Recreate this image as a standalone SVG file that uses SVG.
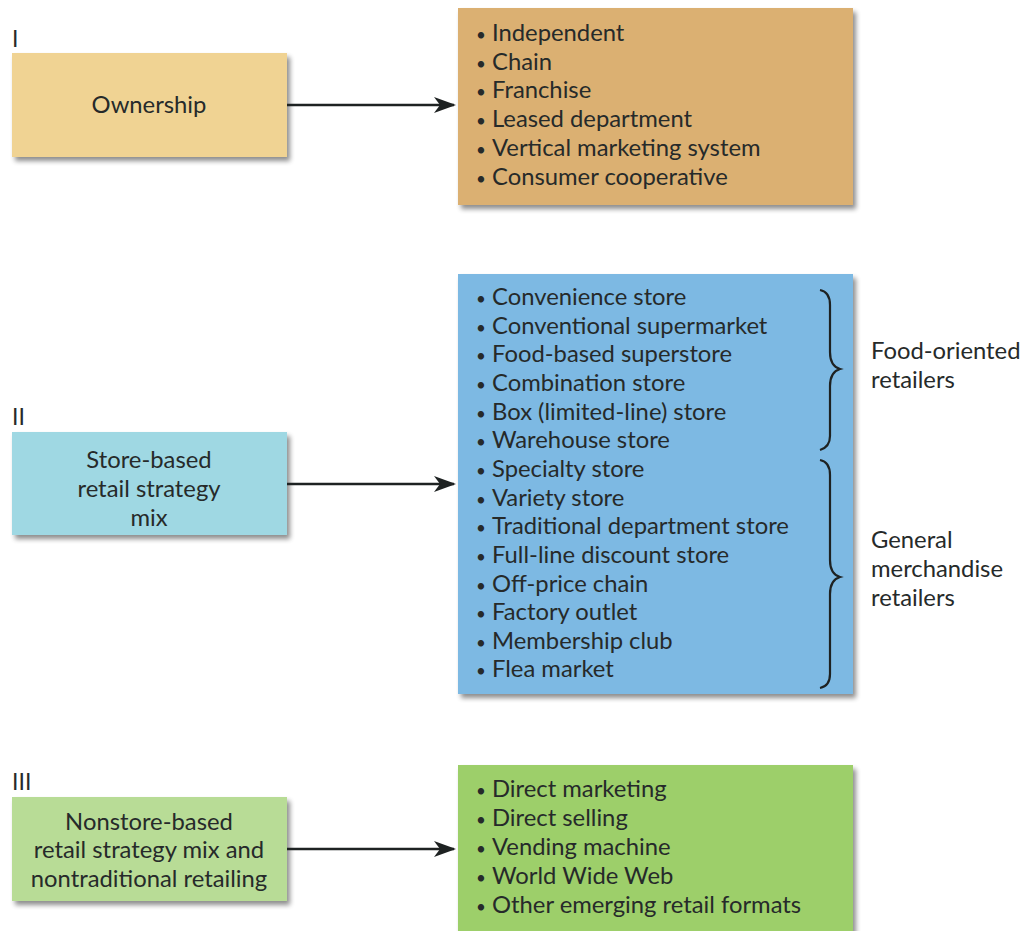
<svg xmlns="http://www.w3.org/2000/svg" width="1026" height="931" viewBox="0 0 1026 931">
<style>
text{font-family:Lato,"Open Sans","Liberation Sans",sans-serif;fill:#262a2a;font-size:23.8px}
.c{text-anchor:middle}
.lab{font-size:23px}
.b{font-size:17px}
.brace{fill:none;stroke:#1e2222;stroke-width:2.2}
.conn{stroke:#1e2222;stroke-width:2.4;fill:none}
</style>
<defs>
<filter id="sh" x="-10%" y="-10%" width="130%" height="130%">
<feGaussianBlur in="SourceAlpha" stdDeviation="2.5"/>
<feOffset dx="3" dy="4"/>
<feComponentTransfer><feFuncA type="linear" slope="0.45"/></feComponentTransfer>
<feMerge><feMergeNode/><feMergeNode in="SourceGraphic"/></feMerge>
</filter>
<marker id="ah" viewBox="0 0 22 16" refX="20" refY="8" markerWidth="22" markerHeight="16" markerUnits="userSpaceOnUse" orient="auto">
<path d="M0,0 L22,8 L0,16 L6,8 Z" fill="#1e2222"/>
</marker>
</defs>
<rect width="1026" height="931" fill="#ffffff"/>

<g id="label-I"><text x="12" y="47" class="lab">I</text></g>
<g id="label-II"><text x="12" y="425" class="lab">II</text></g>
<g id="label-III"><text x="12" y="790" class="lab">III</text></g>

<g id="ownership">
<rect x="12" y="53" width="275" height="104" fill="#f0d393" filter="url(#sh)"/>
<text x="149" y="113" class="c">Ownership</text>
</g>

<g id="ownership-list">
<rect x="458" y="8" width="395" height="197" fill="#dbb072" filter="url(#sh)"/>
<text x="476" y="41"><tspan class="b">•</tspan><tspan x="492">Independent</tspan></text>
<text x="476" y="70"><tspan class="b">•</tspan><tspan x="492">Chain</tspan></text>
<text x="476" y="98"><tspan class="b">•</tspan><tspan x="492">Franchise</tspan></text>
<text x="476" y="127"><tspan class="b">•</tspan><tspan x="492">Leased department</tspan></text>
<text x="476" y="156"><tspan class="b">•</tspan><tspan x="492">Vertical marketing system</tspan></text>
<text x="476" y="185"><tspan class="b">•</tspan><tspan x="492">Consumer cooperative</tspan></text>
</g>

<g id="store-based">
<rect x="12" y="432" width="275" height="103" fill="#9fd8e3" filter="url(#sh)"/>
<text x="149" y="468" class="c">Store-based</text>
<text x="149" y="497" class="c">retail strategy</text>
<text x="149" y="526" class="c">mix</text>
</g>

<g id="store-list">
<rect x="458" y="274" width="395" height="420" fill="#7db9e3" filter="url(#sh)"/>
<text x="476" y="305"><tspan class="b">•</tspan><tspan x="492">Convenience store</tspan></text>
<text x="476" y="334"><tspan class="b">•</tspan><tspan x="492">Conventional supermarket</tspan></text>
<text x="476" y="362"><tspan class="b">•</tspan><tspan x="492">Food-based superstore</tspan></text>
<text x="476" y="391"><tspan class="b">•</tspan><tspan x="492">Combination store</tspan></text>
<text x="476" y="420"><tspan class="b">•</tspan><tspan x="492">Box (limited-line) store</tspan></text>
<text x="476" y="448"><tspan class="b">•</tspan><tspan x="492">Warehouse store</tspan></text>
<text x="476" y="477"><tspan class="b">•</tspan><tspan x="492">Specialty store</tspan></text>
<text x="476" y="506"><tspan class="b">•</tspan><tspan x="492">Variety store</tspan></text>
<text x="476" y="534"><tspan class="b">•</tspan><tspan x="492">Traditional department store</tspan></text>
<text x="476" y="563"><tspan class="b">•</tspan><tspan x="492">Full-line discount store</tspan></text>
<text x="476" y="592"><tspan class="b">•</tspan><tspan x="492">Off-price chain</tspan></text>
<text x="476" y="620"><tspan class="b">•</tspan><tspan x="492">Factory outlet</tspan></text>
<text x="476" y="649"><tspan class="b">•</tspan><tspan x="492">Membership club</tspan></text>
<text x="476" y="677"><tspan class="b">•</tspan><tspan x="492">Flea market</tspan></text>
<path class="brace" d="M820,290 Q830,292 830,305 L830,352 Q830,366 840,369 Q830,372 830,386 L830,436 Q830,447 820,450"/>
<path class="brace" d="M820,460 Q830,462 830,475 L830,560 Q830,574 840,577 Q830,580 830,594 L830,674 Q830,686 820,688"/>
</g>

<g id="food-label">
<text x="871" y="359">Food-oriented</text>
<text x="871" y="388">retailers</text>
</g>
<g id="general-label">
<text x="871" y="548">General</text>
<text x="871" y="577">merchandise</text>
<text x="871" y="606">retailers</text>
</g>

<g id="nonstore">
<rect x="12" y="797" width="275" height="104" fill="#b8dc96" filter="url(#sh)"/>
<text x="149" y="830" class="c">Nonstore-based</text>
<text x="149" y="858" class="c">retail strategy mix and</text>
<text x="149" y="887" class="c">nontraditional retailing</text>
</g>

<g id="nonstore-list">
<rect x="458" y="765" width="395" height="175" fill="#9dcf6b" filter="url(#sh)"/>
<text x="476" y="797"><tspan class="b">•</tspan><tspan x="492">Direct marketing</tspan></text>
<text x="476" y="826"><tspan class="b">•</tspan><tspan x="492">Direct selling</tspan></text>
<text x="476" y="855"><tspan class="b">•</tspan><tspan x="492">Vending machine</tspan></text>
<text x="476" y="884"><tspan class="b">•</tspan><tspan x="492">World Wide Web</tspan></text>
<text x="476" y="913"><tspan class="b">•</tspan><tspan x="492">Other emerging retail formats</tspan></text>
</g>

<g id="connectors">
<line class="conn" x1="287" y1="105" x2="454" y2="105" marker-end="url(#ah)"/>
<line class="conn" x1="287" y1="484" x2="454" y2="484" marker-end="url(#ah)"/>
<line class="conn" x1="287" y1="849" x2="454" y2="849" marker-end="url(#ah)"/>
</g>
</svg>
